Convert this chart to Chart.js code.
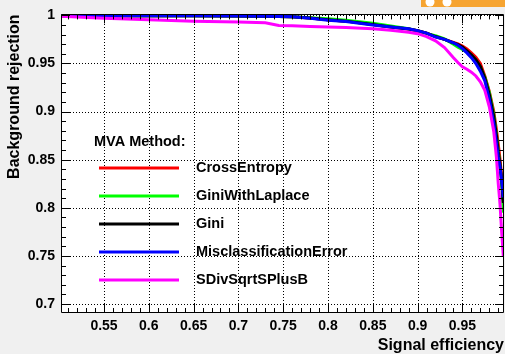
<!DOCTYPE html>
<html><head><meta charset="utf-8">
<script src="https://cdn.jsdelivr.net/npm/chart.js@4"></script>
<style>html,body{margin:0;padding:0;background:#f0f0f0;}#wrap{width:505px;height:354px;}</style>
</head><body><div id="wrap"><canvas id="c" width="505" height="354"></canvas></div>
<script>
const signalEfficiency = [0.502, 0.55, 0.6, 0.65, 0.7, 0.73, 0.745, 0.76, 0.78, 0.8, 0.82, 0.85, 0.87, 0.89, 0.9, 0.91, 0.92, 0.93, 0.94, 0.945, 0.95, 0.955, 0.96, 0.965, 0.97, 0.975, 0.98, 0.985, 0.988, 0.99, 0.992, 0.994, 0.9956];
const crossEntropy = [0.9995, 0.9995, 0.9995, 0.9995, 0.9993, 0.999, 0.9988, 0.9985, 0.9972, 0.9955, 0.994, 0.9905, 0.988, 0.9858, 0.984, 0.9815, 0.978, 0.975, 0.972, 0.9703, 0.968, 0.9652, 0.961, 0.9565, 0.95, 0.937, 0.921, 0.9, 0.881, 0.866, 0.85, 0.83, 0.808];
const giniWithLaplace = [0.9995, 0.9995, 0.9995, 0.9995, 0.9993, 0.999, 0.9988, 0.9985, 0.9975, 0.9965, 0.995, 0.9917, 0.989, 0.986, 0.9838, 0.981, 0.979, 0.9755, 0.970, 0.967, 0.9645, 0.962, 0.958, 0.953, 0.946, 0.936, 0.92, 0.897, 0.876, 0.86, 0.843, 0.822, 0.795];
const gini = [0.9995, 0.9995, 0.9995, 0.9995, 0.9993, 0.999, 0.9988, 0.9985, 0.9972, 0.9955, 0.994, 0.9905, 0.988, 0.9858, 0.984, 0.9815, 0.978, 0.975, 0.9715, 0.9695, 0.967, 0.963, 0.959, 0.954, 0.947, 0.935, 0.918, 0.895, 0.875, 0.858, 0.845, 0.828, 0.805];
const misclassificationError = [0.9995, 0.9995, 0.9995, 0.9995, 0.9993, 0.999, 0.9988, 0.9985, 0.997, 0.995, 0.9935, 0.99, 0.988, 0.986, 0.984, 0.9815, 0.9775, 0.975, 0.9715, 0.969, 0.9655, 0.961, 0.956, 0.95, 0.942, 0.932, 0.913, 0.888, 0.867, 0.853, 0.842, 0.826, 0.811];
const sDivSqrtSPlusB = [0.999, 0.997, 0.9955, 0.994, 0.993, 0.9923, 0.9895, 0.9892, 0.9885, 0.988, 0.9875, 0.986, 0.9845, 0.9825, 0.981, 0.978, 0.9735, 0.9665, 0.956, 0.951, 0.9465, 0.944, 0.941, 0.937, 0.931, 0.922, 0.905, 0.879, 0.852, 0.825, 0.803, 0.772, 0.75];
const methodNames = ["CrossEntropy", "GiniWithLaplace", "Gini", "MisclassificationError", "SDivSqrtSPlusB"];
const xTickValues = [0.55, 0.6, 0.65, 0.7, 0.75, 0.8, 0.85, 0.9, 0.95];
const yTickValues = [0.7, 0.75, 0.8, 0.85, 0.9, 0.95, 1];

const FONT = '"Liberation Sans", Arial, Helvetica, sans-serif';
const seriesValues = [crossEntropy, giniWithLaplace, gini, misclassificationError, sDivSqrtSPlusB];
const colors = ['#ff0000', '#00ff00', '#000000', '#0000ff', '#ff00ff'];
const orders = [5, 4, 3, 2, 1];
const datasets = methodNames.map((name, i) => ({
  label: name,
  data: signalEfficiency.map((x, j) => ({x: x, y: seriesValues[i][j]})),
  borderColor: colors[i],
  backgroundColor: colors[i],
  borderWidth: 3,
  pointRadius: 0,
  tension: 0,
  fill: false,
  order: orders[i]
}));

const fmt = v => String(Math.round(v * 100) / 100);

const rootPlugin = {
  id: 'rootStyle',
  beforeDraw(chart) {
    const ctx = chart.ctx, a = chart.chartArea;
    ctx.save();
    ctx.fillStyle = '#f0f0f0';
    ctx.fillRect(0, 0, chart.width, chart.height);
    ctx.fillStyle = '#ffffff';
    ctx.fillRect(a.left, a.top, a.right - a.left, a.bottom - a.top);
    ctx.fillStyle = '#f6a431';
    ctx.fillRect(421, 0, 84, 7);
    ctx.fillStyle = '#ffffff';
    ctx.beginPath(); ctx.arc(430, 2, 4.5, 0, Math.PI * 2); ctx.fill();
    ctx.beginPath(); ctx.arc(447, 2, 4.5, 0, Math.PI * 2); ctx.fill();
    ctx.restore();
  },
  beforeDatasetsDraw(chart) {
    // dotted grid at the axes' major ticks
    const ctx = chart.ctx, a = chart.chartArea;
    const xs = chart.scales.x, ys = chart.scales.y;
    ctx.save();
    ctx.strokeStyle = '#000';
    ctx.lineWidth = 1;
    ctx.setLineDash([1, 2]);
    ctx.beginPath();
    xs.ticks.forEach(t => {
      const px = Math.round(xs.getPixelForValue(t.value)) + 0.5;
      ctx.moveTo(px, a.bottom); ctx.lineTo(px, a.top);
    });
    ys.ticks.forEach(t => {
      const py = Math.round(ys.getPixelForValue(t.value)) + 0.5;
      ctx.moveTo(a.left, py); ctx.lineTo(a.right, py);
    });
    ctx.stroke();
    ctx.restore();
  },
  afterDraw(chart) {
    const ctx = chart.ctx, a = chart.chartArea;
    const xs = chart.scales.x, ys = chart.scales.y;
    ctx.save();
    ctx.strokeStyle = '#000';
    ctx.lineWidth = 1;
    ctx.beginPath();
    ctx.rect(Math.round(a.left) + 0.5, Math.round(a.top) + 0.5, Math.round(a.right - a.left) - 1, Math.round(a.bottom - a.top) - 1);
    ctx.stroke();
    ctx.beginPath();
    for (let k = 51; k <= 99; k++) {
      const px = Math.round(xs.getPixelForValue(k / 100)) + 0.5;
      if (px < a.left || px > a.right) continue;
      const len = (k % 5 === 0) ? 9 : 5;
      ctx.moveTo(px, a.bottom); ctx.lineTo(px, a.bottom - len);
      ctx.moveTo(px, a.top); ctx.lineTo(px, a.top + len);
    }
    for (let k = 70; k <= 100; k++) {
      const py = Math.round(ys.getPixelForValue(k / 100)) + 0.5;
      if (py < a.top || py > a.bottom) continue;
      const len = (k % 5 === 0) ? 9 : 5;
      ctx.moveTo(a.left, py); ctx.lineTo(a.left + len, py);
      ctx.moveTo(a.right, py); ctx.lineTo(a.right - len, py);
    }
    ctx.stroke();
    // legend
    ctx.fillStyle = '#000';
    ctx.textBaseline = 'middle';
    ctx.textAlign = 'left';
    ctx.font = 'bold 14.5px ' + FONT;
    ctx.fillText('MVA Method:', 94, 141.5);
    chart.data.datasets.forEach((ds, i) => {
      const y = 168 + i * 28;
      ctx.strokeStyle = ds.borderColor;
      ctx.lineWidth = 3;
      ctx.beginPath(); ctx.moveTo(99, y); ctx.lineTo(179, y); ctx.stroke();
      ctx.fillStyle = '#000';
      ctx.fillText(ds.label, 196, y);
    });
    ctx.restore();
  }
};

new Chart(document.getElementById('c'), {
  type: 'line',
  data: {datasets: datasets},
  plugins: [rootPlugin],
  options: {
    responsive: false,
    animation: false,
    devicePixelRatio: 1,
    layout: {padding: {top: 12, right: 1, left: 0, bottom: 0}},
    plugins: {legend: {display: false}, tooltip: {enabled: false}},
    scales: {
      x: {
        type: 'linear', min: 0.502, max: 0.9964,
        afterBuildTicks: s => { s.ticks = xTickValues.map(v => ({value: v})); },
        afterFit: s => { s.height = 41; },
        ticks: {color: '#000', padding: 5, maxRotation: 0, autoSkip: false,
          font: {family: FONT, size: 14, weight: 'bold'}, callback: v => fmt(v)},
        grid: {display: false, drawTicks: false},
        border: {display: false},
        title: {display: true, text: 'Signal efficiency', align: 'end', color: '#000',
          font: {family: FONT, size: 16, weight: 'bold', lineHeight: 1}, padding: {top: 0, bottom: 0}}
      },
      y: {
        type: 'linear', min: 0.6907, max: 1.001,
        afterBuildTicks: s => { s.ticks = yTickValues.map(v => ({value: v})); },
        afterFit: s => { s.width = 61; },
        ticks: {color: '#000', padding: 6, autoSkip: false,
          font: {family: FONT, size: 14, weight: 'bold'}, callback: v => fmt(v)},
        grid: {display: false, drawTicks: false},
        border: {display: false},
        title: {display: true, text: 'Background rejection', align: 'end', color: '#000',
          font: {family: FONT, size: 16, weight: 'bold', lineHeight: 1}, padding: {top: 7, bottom: 0}}
      }
    }
  }
});
</script>
</body></html>
